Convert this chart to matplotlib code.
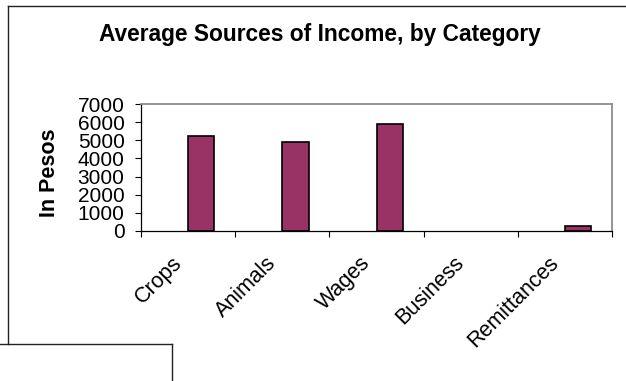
import matplotlib
matplotlib.use("Agg")
import matplotlib.pyplot as plt
from matplotlib.lines import Line2D
from matplotlib.transforms import ScaledTranslation

categories = ["Crops", "Animals", "Wages", "Business", "Remittances"]
income = [5230, 4910, 5910, 0, 290]
yticks = list(range(0, 7001, 1000))

W, H = 626, 381
BAR_COLOR = "#993366"

plt.rcParams["font.family"] = ["Liberation Sans", "DejaVu Sans"]

fig = plt.figure(figsize=(W / 100, H / 100), dpi=100)
fig.patch.set_facecolor("white")


def px(x, y):
    # pixel coords (top-left origin) -> figure fraction
    return x / W, 1 - y / H


def fig_line(x0, y0, x1, y1, **kw):
    (a, b), (c, d) = px(x0, y0), px(x1, y1)
    fig.add_artist(Line2D([a, c], [b, d], transform=fig.transFigure, **kw))


# outer chart frame and the box below it
fig_line(8, 6, W + 2, 6, color="#222222", lw=1.0)
fig_line(8, 6, 8, 344, color="#222222", lw=1.0)
fig_line(-2, 344, 172, 344, color="#222222", lw=1.0)
fig_line(172, 344, 172, H + 2, color="#222222", lw=1.0)

ax = fig.add_axes([141 / W, 1 - 231 / H, 471 / W, 127 / H])

x = list(range(len(categories)))
bars = ax.bar(x, income, width=0.28, align="edge", color=BAR_COLOR,
              edgecolor="black", linewidth=1.2)
for b, v in zip(bars, income):
    if v == 0:
        b.set_linewidth(0)

ax.set_xlim(-0.5, len(categories) - 0.5)
ax.set_ylim(0, 7000)
ax.set_yticks(yticks)
ax.set_yticklabels([str(v) for v in yticks], fontsize=15)
ax.tick_params(axis="y", direction="out", length=4.3, width=0.8, pad=7.5)

# category boundary ticks, labels sit on the minor ticks
ax.set_xticks([i - 0.5 for i in range(len(categories) + 1)], minor=False)
ax.set_xticklabels([])
ax.tick_params(axis="x", direction="out", length=4.3, width=0.8)
ax.set_xticks(x, minor=True)
ax.set_xticklabels(categories, minor=True, rotation=45, ha="right",
                   rotation_mode="anchor", fontsize=15.5)
ax.tick_params(axis="x", which="minor", length=0, pad=14)
shift = ScaledTranslation(-0.17, -0.02, fig.dpi_scale_trans)
for lbl in ax.get_xticklabels(minor=True):
    lbl.set_transform(lbl.get_transform() + shift)

for side in ("top", "right"):
    ax.spines[side].set_color("#8c8c8c")
    ax.spines[side].set_linewidth(1.3)
for side in ("left", "bottom"):
    ax.spines[side].set_color("black")
    ax.spines[side].set_linewidth(0.9)

ax.set_ylabel("In Pesos", fontsize=15.5, fontweight="bold")
ax.yaxis.set_label_coords(-0.172, 0.46)

tx, ty = px(320, 41)
fig.text(tx, ty, "Average Sources of Income, by Category", ha="center",
         va="baseline", fontsize=16.4, fontweight="bold")

fig.savefig("out.png", dpi=100, facecolor="white")
